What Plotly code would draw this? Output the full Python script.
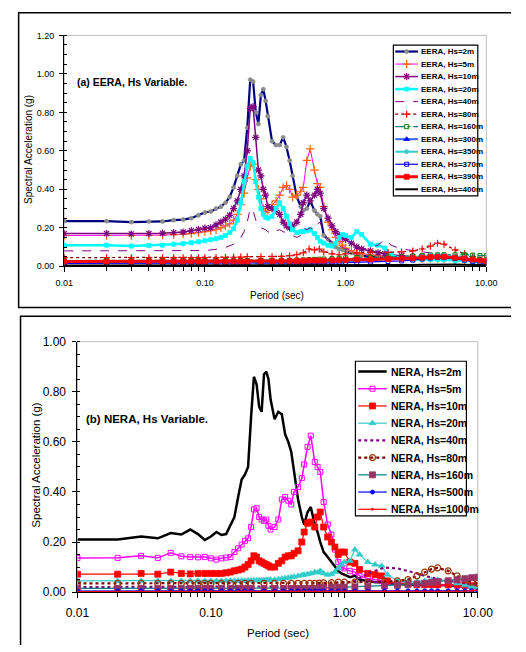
import plotly.graph_objects as go

W, H = 526, 652
FONT = "Liberation Sans, Arial, sans-serif"

# ---------------- data ----------------
PERIOD = [0.01, 0.02, 0.03, 0.04, 0.05, 0.06, 0.07, 0.08, 0.09, 0.10,
          0.11, 0.12, 0.13, 0.14, 0.15, 0.16, 0.17, 0.18, 0.19, 0.20,
          0.21, 0.22, 0.23, 0.24, 0.25, 0.26, 0.27, 0.28,
          0.30, 0.32, 0.34, 0.36, 0.38, 0.40, 0.42, 0.45, 0.48, 0.50,
          0.53, 0.56, 0.60, 0.63, 0.66, 0.70, 0.75, 0.80, 0.85, 0.90, 0.95, 1.00,
          1.1, 1.2, 1.3, 1.5, 1.7, 1.9, 2.1, 2.5, 3.0, 3.5, 4.0, 4.5, 5.0, 6.0, 7.0, 8.0, 9.0, 10.0]

PERIOD_LOW = [0.01, 0.02, 0.03, 0.04, 0.05, 0.06, 0.07, 0.08, 0.09, 0.10,
              0.12, 0.14, 0.16, 0.18, 0.20,
              0.25, 0.30, 0.35, 0.40, 0.45, 0.50, 0.55, 0.60,
              0.65, 0.70, 0.80, 0.90, 1.00,
              1.2, 1.5, 2.0, 2.5, 3.0, 3.5, 4.0, 4.5, 5.0,
              6.0, 7.0, 8.0, 9.0, 10.0]

X_TICK_VALS = [0.01, 0.1, 1, 10]
X_TICK_TEXT = ["0.01", "0.10", "1.00", "10.00"]

# (a) EERA
EERA_2M = [0.235, 0.235, 0.230, 0.233, 0.233, 0.240, 0.243, 0.250, 0.265, 0.280,
           0.285, 0.300, 0.310, 0.330, 0.360, 0.410, 0.470, 0.530, 0.550, 0.720,
           0.970, 0.960, 0.800, 0.740, 0.890, 0.920, 0.860, 0.780,
           0.650, 0.630, 0.630, 0.670, 0.620, 0.550, 0.470, 0.360, 0.310, 0.290,
           0.300, 0.340, 0.290, 0.270, 0.260, 0.160, 0.140, 0.120, 0.100, 0.090, 0.085, 0.080,
           0.070, 0.060, 0.055, 0.050, 0.050, 0.045, 0.045, 0.040, 0.040, 0.040, 0.045, 0.050, 0.045, 0.040, 0.035, 0.030, 0.025, 0.020]
EERA_5M = [0.160, 0.160, 0.160, 0.160, 0.162, 0.165, 0.167, 0.170, 0.175, 0.180,
           0.185, 0.190, 0.200, 0.210, 0.220, 0.240, 0.270, 0.320, 0.380, 0.460,
           0.520, 0.530, 0.450, 0.400, 0.350, 0.300, 0.280, 0.290,
           0.320, 0.340, 0.370, 0.410, 0.420, 0.400, 0.360, 0.370, 0.390, 0.410,
           0.550, 0.610, 0.500, 0.430, 0.410, 0.310, 0.230, 0.190, 0.150, 0.130, 0.110, 0.095,
           0.080, 0.070, 0.065, 0.060, 0.055, 0.050, 0.050, 0.045, 0.045, 0.040, 0.040, 0.040, 0.040, 0.035, 0.030, 0.030, 0.025, 0.025]
EERA_10M = [0.170, 0.170, 0.168, 0.170, 0.172, 0.175, 0.178, 0.185, 0.192, 0.198,
            0.200, 0.215, 0.230, 0.245, 0.265, 0.300, 0.340, 0.400, 0.470, 0.600,
            0.820, 0.830, 0.670, 0.500, 0.470, 0.400, 0.370, 0.310,
            0.300, 0.290, 0.270, 0.230, 0.210, 0.200, 0.210, 0.230, 0.270, 0.330,
            0.370, 0.340, 0.370, 0.400, 0.380, 0.300, 0.250, 0.210, 0.180, 0.160, 0.150, 0.140,
            0.120, 0.100, 0.090, 0.080, 0.070, 0.065, 0.060, 0.055, 0.050, 0.050, 0.045, 0.045, 0.040, 0.040, 0.035, 0.030, 0.030, 0.025]
EERA_20M = [0.110, 0.110, 0.105, 0.108, 0.110, 0.115, 0.118, 0.122, 0.128, 0.133,
            0.138, 0.143, 0.150, 0.160, 0.175, 0.195, 0.240, 0.330, 0.440, 0.520,
            0.560, 0.540, 0.440, 0.360, 0.300, 0.270, 0.255, 0.250,
            0.260, 0.300, 0.330, 0.300, 0.260, 0.220, 0.190, 0.175, 0.180, 0.180,
            0.185, 0.190, 0.170, 0.150, 0.130, 0.120, 0.110, 0.105, 0.120, 0.150, 0.165, 0.160,
            0.150, 0.180, 0.165, 0.115, 0.110, 0.095, 0.060, 0.040, 0.035, 0.035, 0.035, 0.035, 0.035, 0.030, 0.030, 0.025, 0.020, 0.020]
EERA_40M = [0.080, 0.080, 0.080, 0.080, 0.080, 0.080, 0.080, 0.081, 0.081, 0.082,
            0.085, 0.088, 0.092, 0.098, 0.105, 0.115, 0.130, 0.150, 0.180, 0.230,
            0.300, 0.290, 0.240, 0.210, 0.200, 0.195, 0.190, 0.180,
            0.170, 0.185, 0.190, 0.180, 0.175, 0.170, 0.160, 0.150, 0.160, 0.200,
            0.190, 0.200, 0.190, 0.220, 0.230, 0.170, 0.140, 0.130, 0.115, 0.105, 0.095, 0.090,
            0.090, 0.090, 0.090, 0.095, 0.110, 0.140, 0.110, 0.090, 0.080, 0.075, 0.070, 0.065, 0.060, 0.055, 0.050, 0.040, 0.035, 0.030]
EERA_80M = [0.045, 0.045, 0.045, 0.045, 0.045, 0.045, 0.045, 0.045, 0.045, 0.045,
            0.045, 0.046, 0.047, 0.048, 0.050,
            0.050, 0.050, 0.052, 0.055, 0.060, 0.070, 0.090, 0.085,
            0.090, 0.075, 0.065, 0.060, 0.065,
            0.070, 0.072, 0.072, 0.075, 0.080, 0.090, 0.105, 0.120, 0.115,
            0.085, 0.065, 0.050, 0.040, 0.035]
EERA_160M = [0.030, 0.030, 0.030, 0.030, 0.030, 0.030, 0.030, 0.030, 0.030, 0.030,
             0.030, 0.030, 0.030, 0.030, 0.030,
             0.031, 0.031, 0.032, 0.032, 0.033, 0.034, 0.035, 0.036,
             0.037, 0.038, 0.040, 0.042, 0.044,
             0.046, 0.048, 0.050, 0.052, 0.054, 0.056, 0.058, 0.060, 0.060,
             0.060, 0.060, 0.058, 0.056, 0.055]
EERA_300M = [0.020, 0.020, 0.020, 0.020, 0.020, 0.020, 0.020, 0.020, 0.020, 0.020,
             0.020, 0.020, 0.020, 0.020, 0.020,
             0.020, 0.020, 0.020, 0.020, 0.020, 0.020, 0.020, 0.020,
             0.021, 0.022, 0.024, 0.026, 0.028,
             0.030, 0.033, 0.036, 0.040, 0.045, 0.050, 0.055, 0.058, 0.056,
             0.048, 0.040, 0.032, 0.025, 0.020]
EERA_350M = [0.022, 0.022, 0.022, 0.022, 0.022, 0.022, 0.022, 0.022, 0.022, 0.022,
             0.022, 0.022, 0.022, 0.022, 0.022,
             0.022, 0.022, 0.022, 0.022, 0.022, 0.022, 0.022, 0.022,
             0.023, 0.024, 0.026, 0.028, 0.030,
             0.032, 0.035, 0.038, 0.042, 0.047, 0.052, 0.057, 0.060, 0.058,
             0.050, 0.042, 0.035, 0.028, 0.022]
EERA_370M = [0.015, 0.015, 0.015, 0.015, 0.015, 0.015, 0.015, 0.015, 0.015, 0.015,
             0.015, 0.015, 0.015, 0.015, 0.015,
             0.015, 0.015, 0.015, 0.015, 0.015, 0.015, 0.015, 0.015,
             0.016, 0.016, 0.017, 0.018, 0.019,
             0.020, 0.022, 0.025, 0.028, 0.032, 0.038, 0.043, 0.046, 0.045,
             0.040, 0.032, 0.025, 0.018, 0.015]
EERA_390M = [0.025, 0.025, 0.025, 0.025, 0.025, 0.025, 0.025, 0.025, 0.025, 0.025,
             0.025, 0.025, 0.025, 0.025, 0.025,
             0.026, 0.026, 0.027, 0.027, 0.028, 0.029, 0.030, 0.030,
             0.030, 0.030, 0.031, 0.032, 0.033,
             0.035, 0.036, 0.038, 0.040, 0.042, 0.045, 0.048, 0.050, 0.050,
             0.045, 0.040, 0.035, 0.030, 0.025]
EERA_400M = [0.004, 0.004, 0.004, 0.004, 0.004, 0.004, 0.004, 0.004, 0.004, 0.004,
             0.004, 0.004, 0.004, 0.004, 0.004,
             0.004, 0.004, 0.004, 0.004, 0.004, 0.004, 0.004, 0.004,
             0.004, 0.004, 0.004, 0.004, 0.004,
             0.005, 0.005, 0.006, 0.006, 0.007, 0.008, 0.009, 0.010, 0.010,
             0.009, 0.008, 0.007, 0.006, 0.005]

EERA_LABELS = ["EERA, Hs=2m", "EERA, Hs=5m", "EERA, Hs=10m", "EERA, Hs=20m",
               "EERA, Hs=40m", "EERA, Hs=80m", "EERA, Hs=160m", "EERA, Hs=300m",
               "EERA, Hs=350m", "EERA, Hs=370m", "EERA, Hs=390m", "EERA, Hs=400m"]

# (b) NERA
NERA_2M = [0.210, 0.210, 0.222, 0.215, 0.236, 0.230, 0.250, 0.232, 0.208, 0.222,
           0.240, 0.228, 0.232, 0.270, 0.300, 0.380, 0.450, 0.470, 0.500, 0.700,
           0.860, 0.830, 0.740, 0.720, 0.870, 0.880, 0.850, 0.770,
           0.690, 0.720, 0.710, 0.630, 0.600, 0.560, 0.480, 0.370, 0.300, 0.270,
           0.320, 0.340, 0.270, 0.240, 0.200, 0.160, 0.140, 0.120, 0.100, 0.085, 0.075, 0.070,
           0.060, 0.065, 0.050, 0.045, 0.040, 0.040, 0.035, 0.035, 0.030, 0.030, 0.030, 0.030, 0.030, 0.028, 0.025, 0.022, 0.020, 0.020]
NERA_5M = [0.136, 0.137, 0.145, 0.137, 0.157, 0.143, 0.140, 0.139, 0.140, 0.135,
           0.130, 0.135, 0.138, 0.140, 0.160, 0.175, 0.190, 0.205, 0.215, 0.260,
           0.330, 0.335, 0.300, 0.290, 0.285, 0.290, 0.265, 0.250,
           0.260, 0.290, 0.370, 0.380, 0.365, 0.350, 0.400, 0.420, 0.455, 0.510,
           0.580, 0.625, 0.520, 0.500, 0.480, 0.360, 0.270, 0.230, 0.170, 0.120, 0.100, 0.095,
           0.085, 0.080, 0.065, 0.055, 0.050, 0.045, 0.040, 0.035, 0.035, 0.033, 0.030, 0.030, 0.030, 0.028, 0.025, 0.025, 0.022, 0.020]
NERA_10M = [0.072, 0.072, 0.075, 0.072, 0.080, 0.075, 0.073, 0.075, 0.075, 0.075,
            0.075, 0.075, 0.077, 0.080, 0.085, 0.088, 0.092, 0.100, 0.110, 0.125,
            0.145, 0.140, 0.125, 0.120, 0.115, 0.110, 0.105, 0.100,
            0.100, 0.115, 0.125, 0.140, 0.145, 0.145, 0.155, 0.165, 0.200, 0.240,
            0.275, 0.280, 0.260, 0.300, 0.320, 0.260, 0.220, 0.200, 0.180, 0.150, 0.160, 0.160,
            0.120, 0.115, 0.090, 0.075, 0.070, 0.065, 0.045, 0.035, 0.035, 0.030, 0.030, 0.030, 0.030, 0.030, 0.030, 0.028, 0.026, 0.025]
NERA_20M = [0.045, 0.045, 0.045, 0.045, 0.045, 0.045, 0.045, 0.045, 0.045, 0.045,
            0.045, 0.045, 0.045, 0.046, 0.046, 0.046, 0.046, 0.046, 0.047, 0.047,
            0.047, 0.047, 0.048, 0.048, 0.048, 0.049, 0.049, 0.050,
            0.050, 0.052, 0.054, 0.056, 0.058, 0.060, 0.062, 0.065, 0.068, 0.070,
            0.072, 0.075, 0.080, 0.078, 0.085, 0.075, 0.070, 0.072, 0.080, 0.095, 0.110, 0.120,
            0.125, 0.170, 0.150, 0.120, 0.110, 0.105, 0.070, 0.045, 0.040, 0.042, 0.045, 0.050, 0.050, 0.045, 0.035, 0.028, 0.022, 0.020]
NERA_40M = [0.020, 0.020, 0.020, 0.020, 0.020, 0.020, 0.020, 0.020, 0.020, 0.020,
            0.020, 0.020, 0.020, 0.020, 0.020,
            0.020, 0.021, 0.022, 0.022, 0.023, 0.024, 0.025, 0.026,
            0.027, 0.028, 0.030, 0.032, 0.035,
            0.045, 0.075, 0.098, 0.095, 0.085, 0.075, 0.065, 0.058, 0.052,
            0.046, 0.040, 0.035, 0.032, 0.030]
NERA_80M = [0.035, 0.035, 0.035, 0.035, 0.035, 0.035, 0.035, 0.035, 0.035, 0.035,
            0.035, 0.035, 0.035, 0.035, 0.035,
            0.035, 0.035, 0.035, 0.035, 0.035, 0.035, 0.035, 0.035,
            0.036, 0.037, 0.038, 0.040, 0.040,
            0.040, 0.040, 0.042, 0.045, 0.050, 0.065, 0.080, 0.092, 0.097,
            0.085, 0.065, 0.050, 0.040, 0.035]
NERA_160M = [0.015, 0.015, 0.015, 0.015, 0.015, 0.015, 0.015, 0.015, 0.015, 0.015,
             0.015, 0.015, 0.015, 0.015, 0.015,
             0.015, 0.015, 0.015, 0.015, 0.015, 0.015, 0.015, 0.015,
             0.016, 0.017, 0.018, 0.019, 0.020,
             0.021, 0.023, 0.025, 0.027, 0.030, 0.033, 0.036, 0.039, 0.042,
             0.046, 0.050, 0.054, 0.058, 0.060]
NERA_500M = [0.005, 0.005, 0.005, 0.005, 0.005, 0.005, 0.005, 0.005, 0.005, 0.005,
             0.005, 0.005, 0.005, 0.005, 0.005,
             0.005, 0.005, 0.005, 0.005, 0.005, 0.005, 0.005, 0.005,
             0.005, 0.005, 0.005, 0.005, 0.005,
             0.005, 0.005, 0.006, 0.006, 0.006, 0.006, 0.006, 0.006, 0.006,
             0.006, 0.006, 0.006, 0.006, 0.006]
NERA_1000M = [0.002, 0.002, 0.002, 0.002, 0.002, 0.002, 0.002, 0.002, 0.002, 0.002,
              0.002, 0.002, 0.002, 0.002, 0.002,
              0.002, 0.002, 0.002, 0.002, 0.002, 0.002, 0.002, 0.002,
              0.002, 0.002, 0.002, 0.002, 0.002,
              0.002, 0.002, 0.002, 0.002, 0.002, 0.002, 0.002, 0.002, 0.002,
              0.002, 0.003, 0.004, 0.006, 0.008]

NERA_LABELS = ["NERA, Hs=2m", "NERA, Hs=5m", "NERA, Hs=10m", "NERA, Hs=20m",
               "NERA, Hs=40m", "NERA, Hs=80m", "NERA, Hs=160m", "NERA, Hs=500m",
               "NERA, Hs=1000m"]

# ---------------- styles ----------------
def sty(color, width, dash="solid", symbol=None, msize=0, mcolor=None, mline=0.8):
    return dict(color=color, width=width, dash=dash, symbol=symbol,
                msize=msize, mcolor=mcolor or color, mline=mline)

EERA_SERIES = [
    (PERIOD, EERA_2M, sty("#000080", 2.2, symbol="circle", msize=4, mcolor="#8C8C8C")),
    (PERIOD, EERA_5M, sty("#FF00FF", 1.0, symbol="cross-thin-open", msize=6, mcolor="#FF6600", mline=1.2)),
    (PERIOD, EERA_10M, sty("#800080", 1.5, symbol="asterisk-open", msize=6, mcolor="#800080", mline=1.2)),
    (PERIOD, EERA_20M, sty("#00FFFF", 2.5, symbol="square", msize=4, mcolor="#00FFFF")),
    (PERIOD, EERA_40M, sty("#800080", 1.0, dash="dash")),
    (PERIOD_LOW, EERA_80M, sty("#800000", 1.2, dash="dot", symbol="cross-thin-open", msize=5, mcolor="#FF0000", mline=1.2)),
    (PERIOD_LOW, EERA_160M, sty("#008080", 1.2, dash="dashdot", symbol="square-open", msize=4, mcolor="#008000", mline=1)),
    (PERIOD_LOW, EERA_300M, sty("#3366FF", 2.0, symbol="triangle-up", msize=5, mcolor="#0000FF")),
    (PERIOD_LOW, EERA_350M, sty("#33CCCC", 2.0, symbol="circle", msize=4, mcolor="#33CCCC")),
    (PERIOD_LOW, EERA_370M, sty("#0000FF", 1.2, symbol="square-open", msize=4, mcolor="#0000FF", mline=1)),
    (PERIOD_LOW, EERA_390M, sty("#FF0000", 3.0, symbol="square", msize=5, mcolor="#FF0000")),
    (PERIOD_LOW, EERA_400M, sty("#000000", 2.0)),
]

NERA_SERIES = [
    (PERIOD, NERA_2M, sty("#000000", 2.5)),
    (PERIOD, NERA_5M, sty("#FF00FF", 1.5, symbol="square-open", msize=5, mcolor="#FF00FF", mline=1)),
    (PERIOD, NERA_10M, sty("#FF0000", 1.2, symbol="square", msize=6, mcolor="#FF0000")),
    (PERIOD, NERA_20M, sty("#33CCCC", 1.2, symbol="triangle-up", msize=6, mcolor="#33CCCC")),
    (PERIOD_LOW, NERA_40M, sty("#800080", 2.2, dash="dot")),
    (PERIOD_LOW, NERA_80M, sty("#800000", 2.2, dash="dot", symbol="circle-open", msize=6, mcolor="#993300", mline=1.2)),
    (PERIOD_LOW, NERA_160M, sty("#008080", 1.2, symbol="square", msize=6, mcolor="#993366")),
    (PERIOD_LOW, NERA_500M, sty("#3333FF", 1.5, symbol="circle", msize=4, mcolor="#0000FF")),
    (PERIOD_LOW, NERA_1000M, sty("#FF0000", 1.2, symbol="circle", msize=2, mcolor="#FF0000")),
]

# ---------------- layout geometry (pixels) ----------------
def fx(px):
    return px / W


def fy(py):
    return 1 - py / H

TOP_PLOT = dict(l=55, r=500, t=29, b=265)
BOT_PLOT = dict(l=69, r=491, t=342, b=598)


def marker_dict(s, opacity=None):
    m = dict(symbol=s["symbol"], size=s["msize"], color=s["mcolor"],
             line=dict(color=s["mcolor"], width=s["mline"]))
    if opacity is not None:
        m["opacity"] = opacity
    return m


fig = go.Figure()

for xs, ys, s in EERA_SERIES:
    mode = "lines+markers" if s["symbol"] else "lines"
    fig.add_trace(go.Scatter(x=xs, y=ys, mode=mode, xaxis="x", yaxis="y",
                             line=dict(color=s["color"], width=s["width"], dash=s["dash"]),
                             marker=marker_dict(s) if s["symbol"] else None,
                             showlegend=False, hoverinfo="skip"))

for xs, ys, s in NERA_SERIES:
    mode = "lines+markers" if s["symbol"] else "lines"
    fig.add_trace(go.Scatter(x=xs, y=ys, mode=mode, xaxis="x2", yaxis="y2",
                             line=dict(color=s["color"], width=s["width"], dash=s["dash"]),
                             marker=marker_dict(s) if s["symbol"] else None,
                             showlegend=False, hoverinfo="skip"))

# ---------------- hand-drawn legends ----------------
shapes = []
annotations = []


def add_legend(series, labels, box, y0, dy, lx0, lx1, tx, fsize):
    shapes.append(dict(type="rect", xref="paper", yref="paper",
                       x0=fx(box[0]), x1=fx(box[1]), y0=fy(box[3]), y1=fy(box[2]),
                       line=dict(color="black", width=1.2), fillcolor="white", layer="below"))
    for i, ((_, _, s), lab) in enumerate(zip(series, labels)):
        yy = fy(y0 + i * dy)
        xm = (lx0 + lx1) / 2
        has_m = s["symbol"] is not None
        fig.add_trace(go.Scatter(
            x=[fx(lx0), fx(xm), fx(lx1)], y=[yy, yy, yy],
            mode="lines+markers" if has_m else "lines",
            xaxis="x3", yaxis="y3", cliponaxis=False,
            line=dict(color=s["color"], width=s["width"], dash=s["dash"]),
            marker=marker_dict(s, opacity=[0, 1, 0]) if has_m else None,
            showlegend=False, hoverinfo="skip"))
        annotations.append(dict(text="<b>%s</b>" % lab, xref="paper", yref="paper",
                                x=fx(tx), y=yy, xanchor="left", yanchor="middle",
                                showarrow=False,
                                font=dict(family=FONT, size=fsize, color="black")))


add_legend(EERA_SERIES, EERA_LABELS, (402, 491, 39, 193), 45.5, 12.8, 404, 428, 429, 8)
add_legend(NERA_SERIES, NERA_LABELS, (362, 479, 362, 520), 372.5, 17.6, 365, 395, 397, 10.5)


# outer panel frames (open on the right / bottom, as in the cropped original)
def px_path(points):
    return "M " + " L ".join("%.5f,%.5f" % (fx(a), fy(b)) for a, b in points)


shapes.append(dict(type="path", xref="paper", yref="paper",
                   path=px_path([(W, 6), (7, 6), (7, 307), (W, 307)]),
                   line=dict(color="black", width=1.5), layer="below"))
shapes.append(dict(type="path", xref="paper", yref="paper",
                   path=px_path([(W, 316), (9, 316), (9, H)]),
                   line=dict(color="black", width=1.5), layer="below"))
# plot-area frames (light grey)
for xr, yr in (("x domain", "y domain"), ("x2 domain", "y2 domain")):
    shapes.append(dict(type="rect", xref=xr, yref=yr, x0=0, x1=1, y0=0, y1=1,
                       line=dict(color="#BDBDBD", width=1), layer="below"))

# panel notes and axis titles
annotations += [
    dict(text="<b>(a) EERA, Hs Variable.</b>", xref="paper", yref="paper", x=fx(66), y=fy(77),
         xanchor="left", yanchor="middle", showarrow=False,
         font=dict(family=FONT, size=10.5, color="black")),
    dict(text="<b>(b) NERA, Hs Variable.</b>", xref="paper", yref="paper", x=fx(76), y=fy(421),
         xanchor="left", yanchor="middle", showarrow=False,
         font=dict(family=FONT, size=11.5, color="black")),
    dict(text="Spectral Acceleration (g)", xref="paper", yref="paper", x=fx(18), y=fy(146),
         textangle=-90, xanchor="center", yanchor="middle", showarrow=False,
         font=dict(family=FONT, size=10, color="black")),
    dict(text="Period (sec)", xref="paper", yref="paper", x=fx(279), y=fy(295),
         xanchor="center", yanchor="middle", showarrow=False,
         font=dict(family=FONT, size=10, color="black")),
    dict(text="Spectral Acceleration (g)", xref="paper", yref="paper", x=fx(25), y=fy(468),
         textangle=-90, xanchor="center", yanchor="middle", showarrow=False,
         font=dict(family=FONT, size=11.5, color="black")),
    dict(text="Period (sec)", xref="paper", yref="paper", x=fx(280), y=fy(640),
         xanchor="center", yanchor="middle", showarrow=False,
         font=dict(family=FONT, size=11.5, color="black")),
]

minor_x = [m * d for d in (0.01, 0.1, 1.0) for m in range(2, 10)]


def xaxis(plot, anchor, fsize, standoff):
    return dict(domain=[fx(plot["l"]), fx(plot["r"])], anchor=anchor, type="log",
                range=[-2, 1], tickvals=X_TICK_VALS, ticktext=X_TICK_TEXT,
                ticks="outside", ticklen=5, tickcolor="black", tickwidth=1,
                showline=True, linecolor="black", linewidth=1,
                showgrid=False, zeroline=False, ticklabelstandoff=standoff,
                tickfont=dict(family=FONT, size=fsize, color="black"),
                minor=dict(tickvals=minor_x, ticks="outside", ticklen=4,
                           tickcolor="black", tickwidth=1, showgrid=False))


def yaxis(plot, anchor, top, fsize, standoff):
    return dict(domain=[fy(plot["b"]), fy(plot["t"])], anchor=anchor,
                range=[0, top], dtick=0.2, tickformat=".2f",
                ticks="outside", ticklen=4, tickcolor="black", tickwidth=1,
                showline=True, linecolor="black", linewidth=1,
                showgrid=False, zeroline=False, ticklabelstandoff=standoff,
                tickfont=dict(family=FONT, size=fsize, color="black"),
                minor=dict(dtick=0.05, ticks="inside", ticklen=3,
                           tickcolor="black", tickwidth=1, showgrid=False))


fig.update_layout(
    width=W, height=H, margin=dict(l=0, r=0, t=0, b=0),
    paper_bgcolor="white", plot_bgcolor="rgba(0,0,0,0)",
    showlegend=False,
    font=dict(family=FONT, color="black"),
    xaxis=xaxis(TOP_PLOT, "y", 9, 3),
    yaxis=yaxis(TOP_PLOT, "x", 1.2, 9, 3),
    xaxis2=xaxis(BOT_PLOT, "y2", 12, 4),
    yaxis2=yaxis(BOT_PLOT, "x2", 1.0, 12, 4),
    xaxis3=dict(domain=[0, 1], range=[0, 1], anchor="y3", visible=False, fixedrange=True),
    yaxis3=dict(domain=[0, 1], range=[0, 1], anchor="x3", visible=False, fixedrange=True),
    shapes=shapes, annotations=annotations,
)

fig.write_html("out.html")
